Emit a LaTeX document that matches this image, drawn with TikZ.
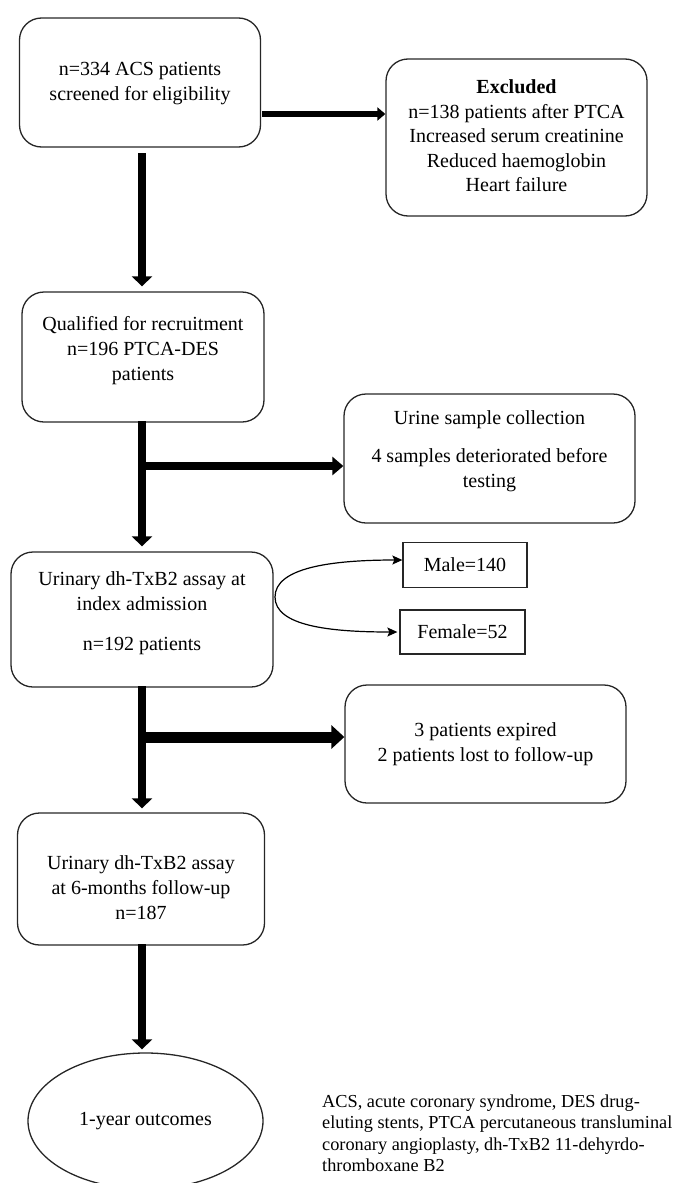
\documentclass[tikz,border=0pt]{standalone}
\usepackage{fontspec}
\setmainfont{Liberation Serif}
\usetikzlibrary{arrows.meta,shapes.geometric}
\begin{document}
\begin{tikzpicture}[x=1pt,y=-1pt,
  boxfont/.style={font=\fontsize{20}{25}\selectfont},
  rbox/.style={draw=black!85, line width=1.3pt, rounded corners=22pt, inner sep=0pt},
  sbox/.style={draw=black!85, line width=1.3pt, align=center, inner sep=0pt, boxfont},
  ellbox/.style={draw=black!85, line width=1.3pt, ellipse, align=center, inner sep=0pt, boxfont},
  boxtext/.style={align=center, inner sep=0pt, boxfont},
  vertarrow/.style={line width=8pt, -{Triangle[length=10pt,width=20pt]}},
  smallarrow/.style={line width=6pt, -{Triangle[length=8pt,width=13pt]}},
  midarrow/.style={line width=8pt, -{Triangle[length=11pt,width=18pt]}},
  widearrow/.style={line width=11pt, -{Triangle[length=13pt,width=23pt]}},
  curvearrow/.style={line width=1.2pt, -{Stealth[length=10pt,width=9pt,inset=2pt]}},
  notefont/.style={font=\fontsize{18.3}{21.5}\selectfont}
]
\useasboundingbox (0,0) rectangle (675,1183);

% left column
\node[rbox, minimum width=241pt, minimum height=129pt] (b1) at (140,82.5) {};
\node[boxtext] (b1t) at (140,84) {n=334 ACS patients\\screened for eligibility};
\node[rbox, minimum width=242pt, minimum height=130pt] (b2) at (143,357) {};
\node[boxtext] (b2t) at (143,351) {Qualified for recruitment\\n=196 PTCA-DES\\patients};
\node[rbox, minimum width=262pt, minimum height=135pt] (b3) at (142,619.5) {};
\node[boxtext] (b3t) at (142,613) {Urinary dh-TxB2 assay at\\index admission\\[15pt]n=192 patients};
\node[rbox, minimum width=247pt, minimum height=132pt] (b4) at (141,879) {};
\node[boxtext] (b4t) at (141,888) {Urinary dh-TxB2 assay\\at 6-months follow-up\\n=187};
\node[ellbox, minimum width=235pt, minimum height=136pt] (ell) at (145.5,1121)
  {1-year outcomes};

% right column
\node[rbox, minimum width=261pt, minimum height=157pt] (ex) at (516.5,137.5) {};
\node[boxtext, font=\fontsize{20}{24.5}\selectfont] (ext) at (516.5,136)
  {\textbf{Excluded}\\n=138 patients after PTCA\\Increased serum creatinine\\Reduced haemoglobin\\Heart failure};
\node[rbox, minimum width=291pt, minimum height=129pt] (urine) at (489.5,458.5) {};
\node[boxtext] (urinet) at (489.5,451)
  {Urine sample collection\\[13pt]4 samples deteriorated before\\testing};
\node[sbox, minimum width=124pt, minimum height=45pt] (male) at (465,565)
  {Male=140};
\node[sbox, minimum width=125pt, minimum height=44pt] (female) at (462.5,632)
  {Female=52};
\node[rbox, minimum width=281pt, minimum height=118pt] (lost) at (485.5,744) {};
\node[boxtext] (lostt) at (485.5,744.5) {3 patients expired\\2 patients lost to follow-up};

% footnote
\node[notefont, align=left, anchor=west, inner sep=0pt] (note) at (322,1133)
  {ACS, acute coronary syndrome, DES drug-\\eluting stents, PTCA percutaneous transluminal\\coronary angioplasty, dh-TxB2 11-dehyrdo-\\thromboxane B2};

% vertical arrows
\coordinate (v1) at (142,153);
\draw[vertarrow, shorten >=5pt] (v1) -- (v1 |- b2.north);
\coordinate (v2) at (142,421);
\draw[vertarrow, shorten >=5pt] (v2) -- (v2 |- b3.north);
\coordinate (v3) at (142,686);
\draw[vertarrow, shorten >=4pt] (v3) -- (v3 |- b4.north);
\coordinate (v4) at (142,944);
\draw[vertarrow, shorten >=3pt] (v4) -- (v4 |- ell.north);

% side arrows
\coordinate (j1) at (262,114);
\draw[smallarrow] (j1) -- (j1 -| ex.west);
\coordinate (j2) at (142,466);
\draw[midarrow] (j2) -- (j2 -| urine.west);
\coordinate (j3) at (142,737);
\draw[widearrow] (j3) -- (j3 -| lost.west);

% gender split
\coordinate (split) at (275,597);
\draw[curvearrow] (split) .. controls (275,568) and (330,560) .. ([yshift=5pt]male.west);
\draw[curvearrow] (split) .. controls (275,626) and (330,632) .. ([xshift=-2pt]female.west);
\end{tikzpicture}
\end{document}
